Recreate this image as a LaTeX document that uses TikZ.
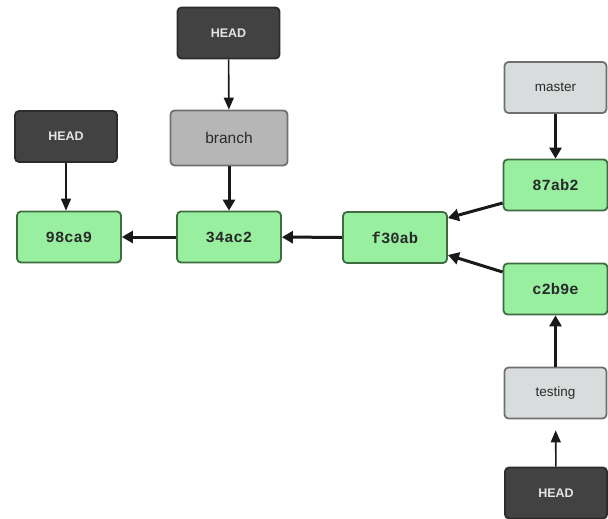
\documentclass[tikz,border=0pt]{standalone}
\usepackage{fontspec}
\setmainfont{Liberation Sans}
\newfontfamily\commitfont{Liberation Mono}
\usetikzlibrary{arrows.meta}
\definecolor{headfill}{HTML}{424242}
\definecolor{headdraw}{HTML}{2C2C2C}
\definecolor{headtext}{HTML}{E4E4E4}
\definecolor{commitfill}{HTML}{98EFA0}
\definecolor{commitdraw}{HTML}{3E6B40}
\definecolor{brfill}{HTML}{D9DCDC}
\definecolor{brdraw}{HTML}{707070}
\definecolor{curfill}{HTML}{B6B6B6}
\definecolor{txt}{HTML}{2A2A2A}
\tikzset{
  box/.style={rectangle, rounded corners=4pt, line width=1.8pt, inner sep=0pt, anchor=center},
  headbox/.style={box, fill=headfill, draw=headdraw, minimum width=102pt, minimum height=51pt,
    text=headtext, font=\fontsize{12.5}{14}\selectfont\bfseries},
  commit/.style={box, fill=commitfill, draw=commitdraw, minimum width=104pt, minimum height=51pt,
    text=txt, font=\fontsize{15.5}{18}\selectfont\commitfont\bfseries},
  brbox/.style={box, fill=brfill, draw=brdraw, minimum width=102pt, minimum height=51pt,
    text=txt, font=\fontsize{13.5}{15}\selectfont},
  curbox/.style={box, fill=curfill, draw=brdraw, minimum width=117pt, minimum height=55pt,
    text=txt, font=\fontsize{15.5}{18}\selectfont},
  thinarr/.style={line width=1.6pt, draw=black!90, -{Triangle[length=12pt,width=10pt]}},
  thickarr/.style={line width=3pt, draw=black!90, -{Triangle[length=11pt,width=12pt]}},
}
\begin{document}
\begin{tikzpicture}[x=1pt,y=-1pt]
\useasboundingbox[fill=white] (0,0) rectangle (608,519);
\node[headbox] (headA) at (228.5,33) {HEAD};
\node[curbox] (branch) at (229,138) {branch};
\node[headbox] (headB) at (66,136.5) {HEAD};
\node[commit] (c98) at (69,237) {98ca9};
\node[commit] (c34) at (229,237) {34ac2};
\node[commit] (cf3) at (395,237.5) {f30ab};
\node[brbox] (master) at (555.5,87.5) {master};
\node[commit] (c87) at (555.5,185) {87ab2};
\node[commit] (cc2) at (555.5,289) {c2b9e};
\node[brbox] (testing) at (555.5,393) {testing};
\node[headbox] (headC) at (556,493) {HEAD};

\draw[thinarr] (headA) -- (branch);
\draw[thickarr] (branch) -- (c34);
\draw[thinarr] (headB) -- (headB |- c98.north);
\draw[thickarr] (c34) -- (c98);
\draw[thickarr] (cf3) -- (c34);
\draw[thickarr] (c87.west |- 0,203) -- (cf3.east |- 0,218);
\draw[thickarr] (cc2.west |- 0,272) -- (cf3.east |- 0,255);
\draw[thickarr] (master) -- (c87);
\draw[thickarr] (testing) -- (cc2);
\draw[thinarr, shorten >=11pt] (headC) -- (testing);
\end{tikzpicture}
\end{document}
